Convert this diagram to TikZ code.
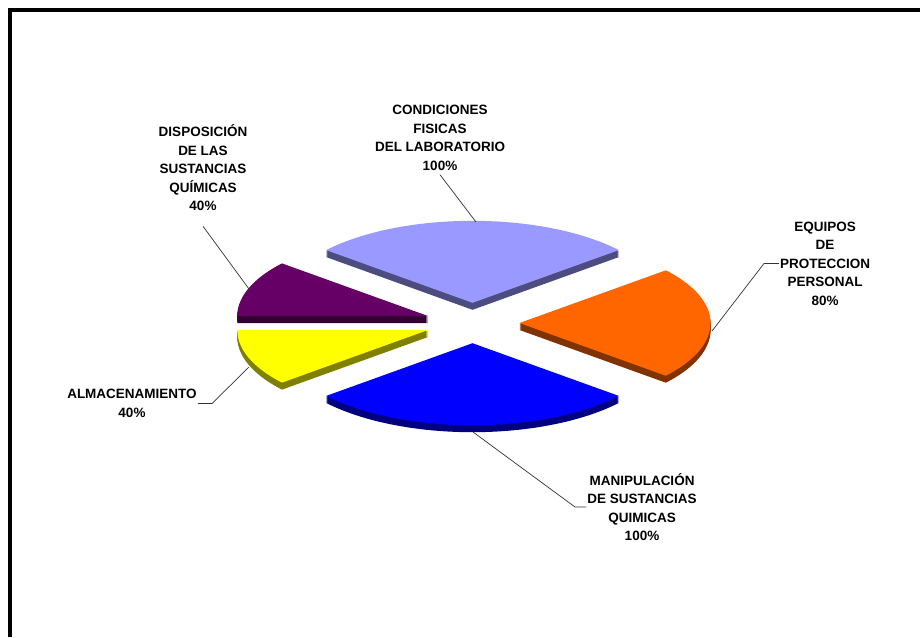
\documentclass[tikz,border=0pt]{standalone}
\usepackage{fontspec}
\setmainfont{Liberation Sans}
\definecolor{cLB}{HTML}{9999FF}\definecolor{sLB}{HTML}{4C4C80}
\definecolor{cOR}{HTML}{FF6600}\definecolor{sOR}{HTML}{803300}
\definecolor{cBL}{HTML}{0000FF}\definecolor{sBL}{HTML}{000080}
\definecolor{cYE}{HTML}{FFFF00}\definecolor{sYE}{HTML}{808000}
\definecolor{cPU}{HTML}{660066}\definecolor{sPU}{HTML}{330033}
\newcommand\pieslice[6]{%
  \foreach \t in {1,...,7}{%
    \fill[#6] ({#1},{#2+\t}) -- plot[domain=#3:#4,samples=50] ({#1+191*cos(\x)},{#2+\t-82*sin(\x)}) -- cycle;}
  \fill[#5] ({#1},{#2}) -- plot[domain=#3:#4,samples=50] ({#1+191*cos(\x)},{#2-82*sin(\x)}) -- cycle;}
\tikzset{lbl/.style={align=center,font=\fontsize{13.5}{18.5}\selectfont\bfseries,inner sep=1pt},
  leader/.style={draw=black!80,line width=0.7pt}}
\begin{document}
\begin{tikzpicture}[x=1pt,y=-1pt]
\useasboundingbox (0,0) rectangle (920,637);
\fill[white] (0,0) rectangle (920,637);
\draw[line width=4pt] (10.3,637) -- (10.3,10.3) -- (920,10.3);
% slices, back to front
\pieslice{472.5}{302.8}{40}{140}{cLB}{sLB}
\pieslice{428.3}{316.1}{140}{180}{cPU}{sPU}
\pieslice{519.5}{323}{-40}{40}{cOR}{sOR}
\pieslice{428.3}{329.9}{180}{220}{cYE}{sYE}
\pieslice{472.5}{343.2}{-140}{-40}{cBL}{sBL}
% labels
\node[lbl] (disp) at (203,168) {DISPOSICIÓN\\DE LAS\\SUSTANCIAS\\QUÍMICAS\\40\%};
\node[lbl] (cond) at (440,138) {CONDICIONES\\FISICAS\\DEL LABORATORIO\\100\%};
\node[lbl] (equi) at (825,263.5) {EQUIPOS\\DE\\PROTECCION\\PERSONAL\\80\%};
\node[lbl] (alma) at (132,403.5) {ALMACENAMIENTO\\40\%};
\node[lbl] (mani) at (642,507) {MANIPULACIÓN\\DE SUSTANCIAS\\QUIMICAS\\100\%};
% leader endpoints
\coordinate (pDisp) at (249,289);
\coordinate (pCond) at (476,222);
\coordinate (kEqui) at (764,263.5);
\coordinate (pEqui) at (712,331);
\coordinate (kAlma) at (212,403.5);
\coordinate (pAlma) at (249,367);
\coordinate (kMani) at (575,507);
\coordinate (pMani) at (473,432);
\draw[leader] ([yshift=-14pt]disp.south) -- (pDisp);
\draw[leader] ([yshift=-3pt]cond.south) -- (pCond);
\draw[leader] (equi.west) -- (kEqui) -- (pEqui);
\draw[leader] (alma.east) -- (kAlma) -- (pAlma);
\draw[leader] (mani.west) -- (kMani) -- (pMani);
\end{tikzpicture}
\end{document}
